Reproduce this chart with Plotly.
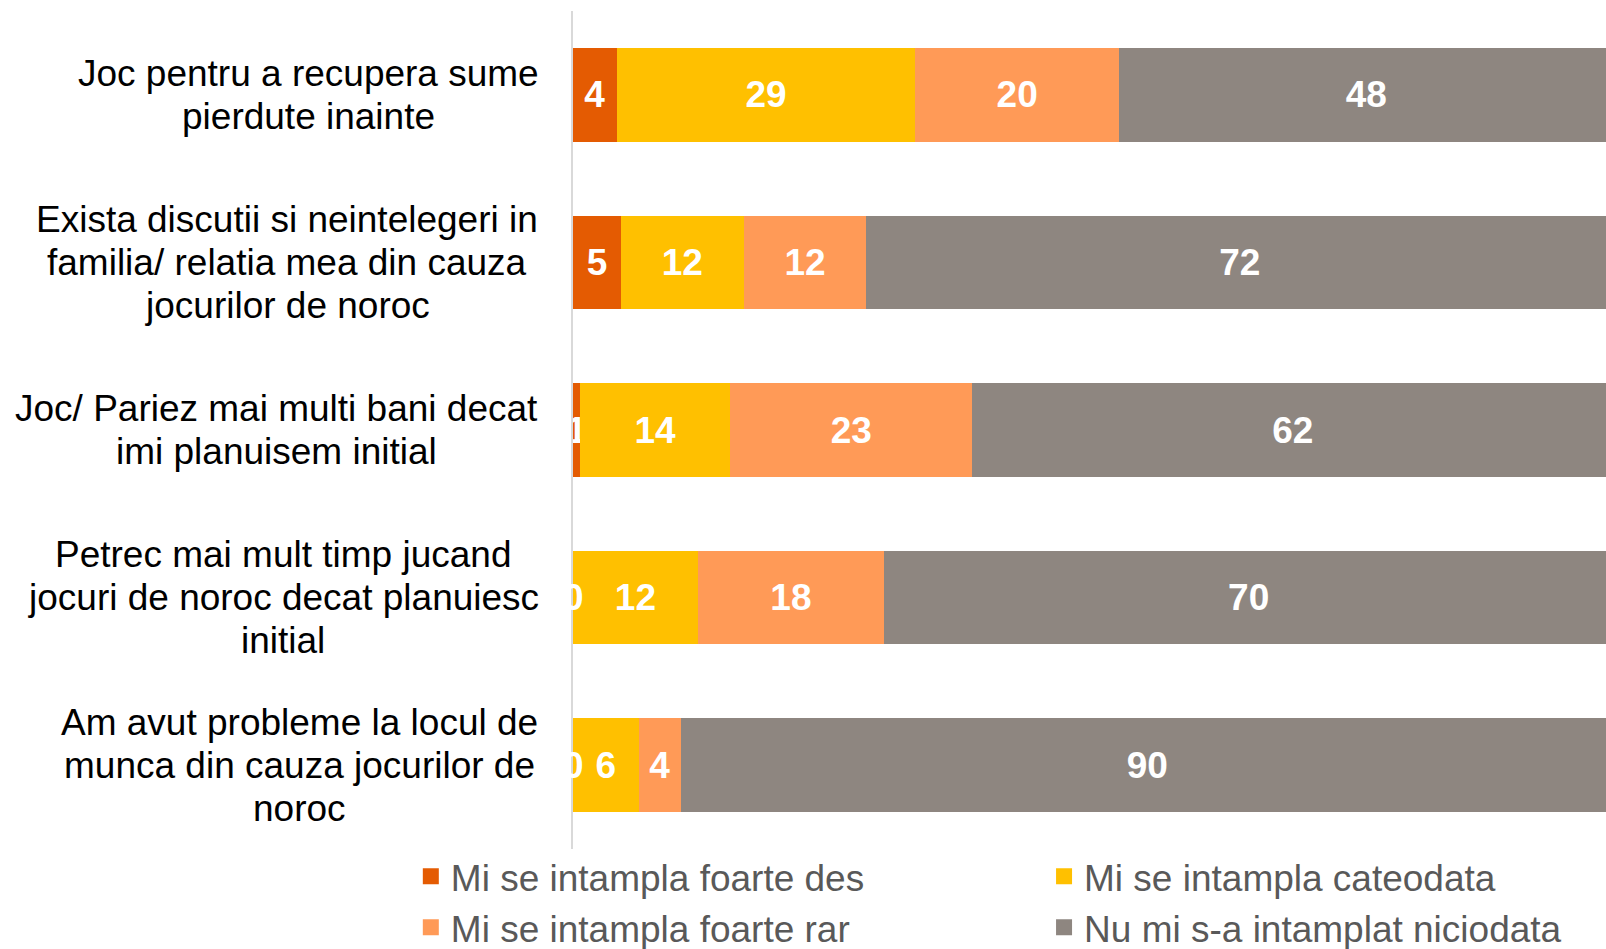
import plotly.graph_objects as go

# --- Data ---
categories = [
    "Joc pentru a recupera sume<br>pierdute inainte",
    "Exista discutii si neintelegeri in<br>familia/ relatia mea din cauza<br>jocurilor de noroc",
    "Joc/ Pariez mai multi bani decat<br>imi planuisem initial",
    "Petrec mai mult timp jucand<br>jocuri de noroc decat planuiesc<br>initial",
    "Am avut probleme la locul de<br>munca din cauza jocurilor de<br>noroc",
]
series_names = [
    "Mi se intampla foarte des",
    "Mi se intampla cateodata",
    "Mi se intampla foarte rar",
    "Nu mi s-a intamplat niciodata",
]
foarte_des = [4.2, 4.6, 0.7, 0.0, 0.0]
cateodata = [28.7, 11.8, 14.4, 12.0, 6.3]
foarte_rar = [19.6, 11.8, 23.3, 17.9, 4.1]
niciodata = [47.5, 71.8, 61.6, 70.1, 89.6]

# --- Style ---
FONT = "Liberation Sans, Arial, sans-serif"
COLORS = ["#E45B02", "#FFC000", "#FF9A57", "#8E8680"]
LEGEND_OF = ["legend", "legend2", "legend", "legend2"]

W, H = 1606, 949
MARGIN_L, MARGIN_T, MARGIN_B = 573, 11, 100
PLOT_W = W - MARGIN_L
LINE_STEP = 43                              # px between wrapped label lines
LABEL_CENTERS = [308, 287, 276, 283, 299]   # px, centre of each wrapped label block

fig = go.Figure()

all_values = [foarte_des, cateodata, foarte_rar, niciodata]
for name, vals, color in zip(series_names, all_values, COLORS):
    fig.add_trace(
        go.Bar(
            y=categories,
            x=vals,
            name=name,
            orientation="h",
            marker=dict(color=color, line=dict(width=0)),
            texttemplate="%{x:.0f}",
            textposition="inside",
            insidetextanchor="middle",
            constraintext="none",
            textfont=dict(color="white", size=37, family=FONT, weight="bold"),
            showlegend=False,
            hoverinfo="name+x",
        )
    )

# legend entries with larger square swatches
for name, color, leg in zip(series_names, COLORS, LEGEND_OF):
    fig.add_trace(
        go.Scatter(
            x=[None],
            y=[None],
            mode="markers",
            name=name,
            marker=dict(symbol="square", size=16, color=color),
            legend=leg,
        )
    )

annotations = []
# category labels: each line placed separately so line spacing matches
for cat, cx in zip(categories, LABEL_CENTERS):
    lines = cat.split("<br>")
    n = len(lines)
    for i, line in enumerate(lines):
        annotations.append(
            dict(
                text=line,
                x=(cx - MARGIN_L) / PLOT_W,
                xref="paper",
                xanchor="center",
                y=cat,
                yref="y",
                yanchor="middle",
                yshift=((n - 1) / 2 - i) * LINE_STEP,
                showarrow=False,
                font=dict(size=37, color="#000000", family=FONT),
            )
        )

# zero-value labels sit on the axis (bars with no width carry no text)
for vals in all_values:
    for cat, v in zip(categories, vals):
        if v == 0:
            annotations.append(
                dict(
                    text="0",
                    x=0,
                    xref="x",
                    xanchor="center",
                    y=cat,
                    yref="y",
                    showarrow=False,
                    font=dict(size=37, color="white", family=FONT, weight="bold"),
                )
            )

legend_style = dict(
    orientation="v",
    yanchor="top",
    y=0.004,
    xanchor="left",
    font=dict(size=37, color="#595959", family=FONT),
    bgcolor="rgba(0,0,0,0)",
    traceorder="normal",
)

fig.update_layout(
    barmode="stack",
    bargap=0.442,
    width=W,
    height=H,
    paper_bgcolor="white",
    plot_bgcolor="white",
    margin=dict(l=MARGIN_L, r=0, t=MARGIN_T, b=MARGIN_B, autoexpand=False),
    xaxis=dict(
        range=[0, 99.3],
        visible=False,
        showgrid=False,
        zeroline=False,
    ),
    yaxis=dict(
        autorange="reversed",
        showticklabels=False,
        showgrid=False,
        zeroline=False,
        showline=True,
        linecolor="#D9D9D9",
        linewidth=2,
        ticks="",
    ),
    showlegend=True,
    legend=dict(x=-0.157, **legend_style),
    legend2=dict(x=0.456, **legend_style),
    annotations=annotations,
    font=dict(family=FONT),
)

fig.write_html(
    "out.html",
    config={"displayModeBar": False},
    post_script="document.body.style.margin = '0';",
)
